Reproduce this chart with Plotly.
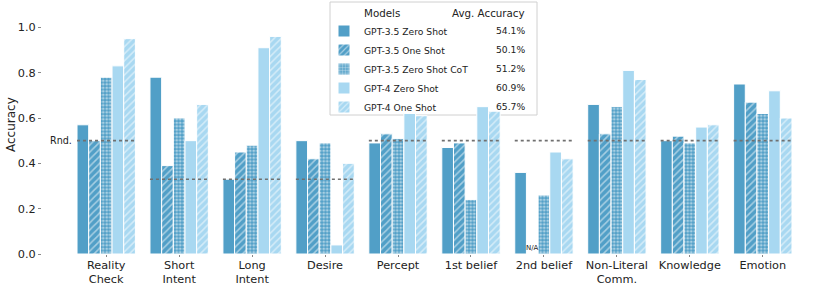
import plotly.graph_objects as go

categories = ["Reality<br>Check", "Short<br>Intent", "Long<br>Intent", "Desire", "Percept",
              "1st belief", "2nd belief", "Non-Literal<br>Comm.", "Knowledge", "Emotion"]
models = ["GPT-3.5 Zero Shot", "GPT-3.5 One Shot", "GPT-3.5 Zero Shot CoT",
          "GPT-4 Zero Shot", "GPT-4 One Shot"]
avg_accuracy = [54.1, 50.1, 51.2, 60.9, 65.7]

gpt35_zero = [0.57, 0.78, 0.33, 0.50, 0.49, 0.47, 0.36, 0.66, 0.50, 0.75]
gpt35_one = [0.50, 0.39, 0.45, 0.42, 0.53, 0.49, None, 0.53, 0.52, 0.67]
gpt35_cot = [0.78, 0.60, 0.48, 0.49, 0.51, 0.24, 0.26, 0.65, 0.49, 0.62]
gpt4_zero = [0.83, 0.50, 0.91, 0.04, 0.62, 0.65, 0.45, 0.81, 0.56, 0.72]
gpt4_one = [0.95, 0.66, 0.96, 0.40, 0.61, 0.63, 0.42, 0.77, 0.57, 0.60]
random_baseline = [0.50, 0.33, 0.33, 0.33, 0.50, 0.50, 0.50, 0.50, 0.50, 0.50]

series = [gpt35_zero, gpt35_one, gpt35_cot, gpt4_zero, gpt4_one]
DARK = "#519fc7"
LIGHT = "#a8d8f1"
colors = [DARK, DARK, DARK, LIGHT, LIGHT]
patterns = ["", "/", ".", "", "/"]

x = list(range(len(categories)))
fig = go.Figure()
for name, vals, col, pat in zip(models, series, colors, patterns):
    pattern = dict(shape=pat)
    if pat == "/":
        pattern.update(fgcolor="white", bgcolor=col, fillmode="overlay", size=5, solidity=0.3)
    elif pat == ".":
        pattern.update(fgcolor="white", bgcolor=col, fillmode="overlay", size=3.5, solidity=0.5)
    fig.add_trace(go.Bar(
        x=x, y=vals, name=name,
        marker=dict(color=col, line=dict(color="white", width=1), pattern=pattern),
    ))

# random baseline dotted lines
GROUP_HALF = 0.4
rx, ry = [], []
for i, r in zip(x, random_baseline):
    rx += [i - GROUP_HALF, i + GROUP_HALF, None]
    ry += [r, r, None]
fig.add_trace(go.Scatter(x=rx, y=ry, mode="lines", showlegend=False, hoverinfo="skip",
                         line=dict(color="#707070", width=1.6, dash="dot")))

fig.add_annotation(x=x[0] - GROUP_HALF - 0.04, y=random_baseline[0], text="Rnd.", showarrow=False,
                   xanchor="right", yanchor="middle", font=dict(size=9.6, color="#222"))
na_idx = gpt35_one.index(None)
fig.add_annotation(x=na_idx - 0.16, y=0, text="N/A", showarrow=False, xanchor="center",
                   yanchor="bottom", font=dict(size=7, color="#222"))

# geometry (pixels)
W, H = 831, 287
L, R, T, B = 42, 4, 16, 33

def px(p):
    return (p - L) / (W - L - R)

def py(p):
    return 1 - (p - T) / (H - T - B)

# y-axis title
fig.add_annotation(xref="paper", yref="paper", x=px(11), y=py(125), text="Accuracy",
                   textangle=-90, showarrow=False, xanchor="center", yanchor="middle",
                   font=dict(size=12, color="#222"))

# legend box and header
box_x0, box_x1, box_y0, box_y1 = 330, 537, 2, 115
fig.add_shape(type="rect", xref="paper", yref="paper",
              x0=px(box_x0), x1=px(box_x1), y0=py(box_y1), y1=py(box_y0),
              line=dict(color="#d0d0d0", width=1), fillcolor="white", layer="below")

fig.add_annotation(xref="paper", yref="paper", x=px(362), y=py(13), text="Models",
                   showarrow=False, xanchor="left", yanchor="middle", font=dict(size=10.3, color="#222"))
fig.add_annotation(xref="paper", yref="paper", x=px(527), y=py(13), text="Avg. Accuracy",
                   showarrow=False, xanchor="right", yanchor="middle", font=dict(size=10.3, color="#222"))
row0, row_step = 30.5, 19
for k, a in enumerate(avg_accuracy):
    fig.add_annotation(xref="paper", yref="paper", x=px(527), y=py(row0 + k * row_step),
                       text=f"{a:.1f}%", showarrow=False, xanchor="right", yanchor="middle",
                       font=dict(size=9.2, color="#222"))

fig.update_layout(
    width=W, height=H,
    margin=dict(l=L, r=R, t=T, b=B, pad=0, autoexpand=False),
    plot_bgcolor="white", paper_bgcolor="white",
    barmode="group", bargap=0.2, bargroupgap=0,
    font=dict(family="DejaVu Sans", color="#222"),
    legend=dict(xref="container", yref="container", x=324 / W, y=1 - 16.5 / H,
                xanchor="left", yanchor="top",
                bgcolor="rgba(0,0,0,0)", borderwidth=0,
                font=dict(size=9.2), itemwidth=30),
    xaxis=dict(range=[-0.88, 9.88], tickmode="array", tickvals=x, ticktext=categories,
               showline=False, showgrid=False, zeroline=False, ticks="outside", automargin=False,
               ticklen=2, tickcolor="#888", tickfont=dict(size=11.3), ticklabelstandoff=-2),
    yaxis=dict(range=[0, 1.05], tickvals=[0, 0.2, 0.4, 0.6, 0.8, 1.0], tickformat=".1f",
               showline=False, showgrid=False, zeroline=False, ticks="outside", automargin=False,
               ticklen=3, tickcolor="#888", tickfont=dict(size=11.3)),
)

fig.write_html("out.html", config={"displayModeBar": False},
               post_script="document.body.style.margin='0';document.body.style.overflow='hidden';")
